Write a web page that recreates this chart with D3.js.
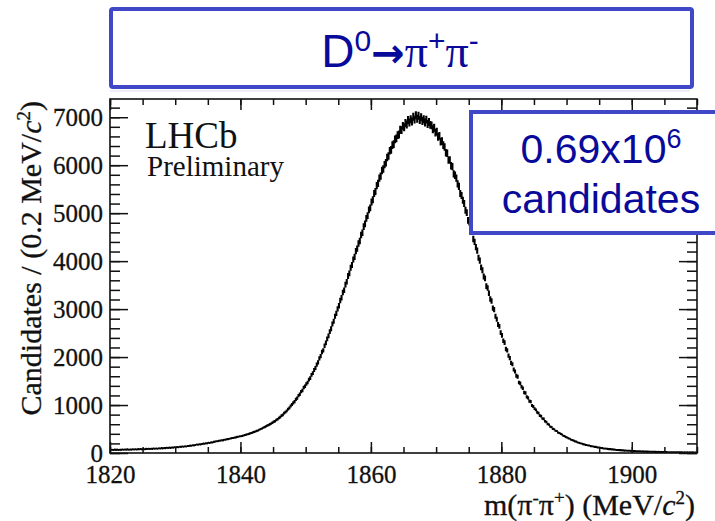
<!DOCTYPE html>
<html>
<head>
<meta charset="utf-8">
<script src="https://cdn.jsdelivr.net/npm/d3@7.9.0/dist/d3.min.js"></script>
<style>
  body { margin: 0; background: #fff; }
  svg { display: block; }
  .serif { font-family: 'Liberation Serif', 'Times New Roman', serif; }
  .sans { font-family: 'Liberation Sans', Arial, sans-serif; }
</style>
</head>
<body>
<svg width="715" height="521"></svg>
<script>
// m(pi- pi+) spectrum, 0.2 MeV bins from 1820 to 1910
const massLow = 1820;
const binWidth = 0.2;
const counts = [
  63, 68, 61, 70, 66, 71, 64, 69, 66, 72,
  67, 73, 70, 75, 68, 74, 70, 77, 73, 79,
  73, 80, 77, 82, 76, 84, 78, 86, 82, 88,
  83, 90, 87, 94, 89, 95, 90, 98, 93, 101,
  97, 104, 101, 108, 105, 112, 107, 116, 113, 119,
  117, 125, 121, 130, 127, 134, 130, 140, 137, 146,
  145, 154, 151, 162, 158, 168, 176, 172, 183, 180,
  188, 196, 193, 204, 201, 213, 210, 222, 220, 232,
  238, 246, 244, 256, 258, 266, 263, 275, 277, 288,
  290, 298, 301, 312, 314, 320, 326, 336, 340, 348,
  350, 358, 366, 375, 384, 392, 398, 410, 418, 430,
  440, 448, 462, 470, 486, 500, 510, 526, 538, 555,
  570, 582, 600, 612, 632, 650, 664, 688, 702, 731,
  748, 780, 796, 832, 851, 878, 915, 940, 978, 1012,
  1045, 1070, 1118, 1145, 1196, 1225, 1280, 1302, 1365, 1390,
  1438, 1470, 1532, 1560, 1628, 1665, 1730, 1772, 1842, 1890,
  1972, 2020, 2105, 2140, 2238, 2295, 2380, 2440, 2530, 2590,
  2690, 2745, 2852, 2910, 3005, 3070, 3180, 3235, 3345, 3392,
  3512, 3570, 3690, 3745, 3862, 3920, 4035, 4090, 4210, 4262,
  4368, 4420, 4545, 4590, 4720, 4778, 4890, 4950, 5068, 5110,
  5232, 5280, 5410, 5450, 5575, 5620, 5730, 5770, 5890, 5920,
  6012, 6050, 6160, 6190, 6300, 6320, 6420, 6440, 6540, 6560,
  6625, 6640, 6740, 6730, 6820, 6790, 6880, 6850, 6940, 6890,
  6960, 6910, 7010, 6950, 7040, 6970, 7030, 6940, 7000, 6920,
  6960, 6890, 6950, 6860, 6900, 6840, 6830, 6750, 6780, 6680,
  6700, 6590, 6610, 6490, 6500, 6420, 6380, 6260, 6250, 6110,
  6110, 5990, 5970, 5820, 5790, 5730, 5610, 5560, 5410, 5370,
  5270, 5200, 5060, 5010, 4850, 4810, 4690, 4620, 4460, 4400,
  4290, 4220, 4070, 4010, 3870, 3810, 3680, 3640, 3480, 3440,
  3330, 3210, 3170, 3020, 2990, 2850, 2790, 2680, 2640, 2510,
  2450, 2340, 2300, 2170, 2140, 2030, 1980, 1880, 1850, 1740,
  1700, 1610, 1590, 1470, 1450, 1380, 1350, 1260, 1250, 1170,
  1150, 1080, 1070, 990, 970, 925, 900, 850, 830, 780,
  768, 720, 712, 660, 645, 605, 590, 552, 540, 502,
  495, 465, 460, 425, 418, 398, 385, 360, 352, 330,
  322, 305, 298, 275, 268, 258, 242, 238, 220, 215,
  203, 198, 186, 180, 170, 166, 157, 155, 144, 142,
  136, 128, 127, 117, 115, 112, 104, 102, 95, 94,
  89, 87, 81, 80, 75, 76, 70, 69, 64, 63,
  60, 59, 55, 54, 50, 52, 48, 47, 46, 43,
  44, 40, 41, 37, 38, 35, 35, 32, 33, 29,
  31, 28, 29, 26, 27, 25, 26, 23, 24, 21,
  23, 20, 21, 19, 20, 18, 19, 16, 17, 16,
  17, 14, 15, 13, 15, 13, 14, 12, 13, 11,
  12, 11, 13, 10, 12, 10, 12, 9, 11, 10
];
const xMajor = [1820, 1840, 1860, 1880, 1900];
const xMinor = d3.range(1820, 1911, 5);
const yMajor = [0, 1000, 2000, 3000, 4000, 5000, 6000, 7000];
const yMinor = d3.range(0, 7400, 200);

const svg = d3.select('svg');
const plotL = 110, plotR = 697, plotT = 99, plotB = 453;
const ink = '#111';

const x = d3.scaleLinear().domain([1820, 1910]).range([plotL, plotR]);
const y = d3.scaleLinear().domain([0, 7380]).range([plotB, plotT]);

// faint line of the slide above the plot
svg.append('line')
  .attr('x1', plotL).attr('x2', 690).attr('y1', 91).attr('y2', 91)
  .attr('stroke', '#eceff8').attr('stroke-width', 2);

svg.append('clipPath').attr('id', 'plot')
  .append('rect').attr('x', plotL).attr('y', plotT)
  .attr('width', plotR - plotL).attr('height', plotB - plotT);

// histogram with error bars
let d = '';
counts.forEach((v, i) => {
  const lo = massLow + i * binWidth;
  const e = Math.sqrt(v);
  d += `M${x(lo)},${y(v)}H${x(lo + binWidth)}`;
  d += `M${x(lo + binWidth / 2)},${y(v - e)}V${y(v + e)}`;
});
svg.append('path')
  .attr('clip-path', 'url(#plot)')
  .attr('d', d)
  .attr('fill', 'none')
  .attr('stroke', '#000')
  .attr('stroke-width', 2.1);

// axes: ticks on all four sides, labels bottom and left
function ticks(axis, pos) {
  const g = svg.append('g').attr('transform', pos).call(axis);
  g.select('.domain').remove();
  g.selectAll('line').attr('stroke', ink).attr('stroke-width', 1.5);
  g.selectAll('text').attr('class', 'serif').attr('fill', ink)
    .attr('stroke', ink).attr('stroke-width', 0.3)
    .style('font-size', '25px');
  return g;
}
ticks(d3.axisBottom(x).tickValues(xMinor).tickSize(-6).tickFormat(''), `translate(0,${plotB})`);
ticks(d3.axisBottom(x).tickValues(xMajor).tickSize(-11).tickPadding(12).tickFormat(d3.format('d')), `translate(0,${plotB})`);
ticks(d3.axisTop(x).tickValues(xMinor).tickSize(-6).tickFormat(''), `translate(0,${plotT})`);
ticks(d3.axisTop(x).tickValues(xMajor).tickSize(-11).tickFormat(''), `translate(0,${plotT})`);
ticks(d3.axisLeft(y).tickValues(yMinor).tickSize(-10).tickFormat(''), `translate(${plotL},0)`);
ticks(d3.axisLeft(y).tickValues(yMajor).tickSize(-18).tickPadding(7).tickFormat(d3.format('d')), `translate(${plotL},0)`);
ticks(d3.axisRight(y).tickValues(yMinor).tickSize(-10).tickFormat(''), `translate(${plotR},0)`);
ticks(d3.axisRight(y).tickValues(yMajor).tickSize(-18).tickFormat(''), `translate(${plotR},0)`);

svg.append('rect')
  .attr('x', plotL).attr('y', plotT)
  .attr('width', plotR - plotL).attr('height', plotB - plotT)
  .attr('fill', 'none').attr('stroke', ink).attr('stroke-width', 1.6);

// axis titles
const xt = svg.append('text').attr('class', 'serif')
  .attr('x', 695).attr('y', 515).attr('text-anchor', 'end')
  .attr('stroke', ink).attr('stroke-width', 0.3)
  .style('font-size', '30px').attr('fill', ink);
xt.append('tspan').text('m(π');
xt.append('tspan').attr('dy', -11).style('font-size', '19px').text('-');
xt.append('tspan').attr('dy', 11).text('π');
xt.append('tspan').attr('dy', -11).style('font-size', '19px').text('+');
xt.append('tspan').attr('dy', 11).text(')  (MeV/');
xt.append('tspan').style('font-style', 'italic').text('c');
xt.append('tspan').attr('dy', -11).style('font-size', '19px').text('2');
xt.append('tspan').attr('dy', 11).text(')');

const yt = svg.append('text').attr('class', 'serif')
  .attr('transform', 'translate(41,101) rotate(-90)')
  .attr('text-anchor', 'end')
  .attr('stroke', ink).attr('stroke-width', 0.3)
  .style('font-size', '30px').attr('fill', ink);
yt.append('tspan').text('Candidates / (0.2 MeV/');
yt.append('tspan').style('font-style', 'italic').text('c');
yt.append('tspan').attr('dy', -11).style('font-size', '19px').text('2');
yt.append('tspan').attr('dy', 11).text(')');

svg.append('text').attr('class', 'serif')
  .attr('x', 145).attr('y', 148).style('font-size', '37px').attr('fill', ink)
  .text('LHCb');
svg.append('text').attr('class', 'serif')
  .attr('x', 147).attr('y', 176).style('font-size', '29px').attr('fill', ink)
  .text('Preliminary');

// slide boxes
const boxBlue = '#4048c8', textBlue = '#0a0a9a';
svg.append('rect')
  .attr('x', 111).attr('y', 9).attr('width', 581).attr('height', 78)
  .attr('fill', '#fff').attr('stroke', boxBlue).attr('stroke-width', 4).attr('rx', 2);
const tt = svg.append('text').attr('class', 'sans')
  .attr('x', 400).attr('y', 67).attr('text-anchor', 'middle')
  .style('font-size', '46px').attr('fill', textBlue);
tt.append('tspan').text('D');
tt.append('tspan').attr('dy', -16).style('font-size', '30px').text('0');
tt.append('tspan').attr('dy', 16)
  .style('font-family', "'DejaVu Sans', sans-serif").style('font-weight', 'bold')
  .style('font-size', '40px').text('→');
tt.append('tspan').attr('class', 'serif').text('π');
tt.append('tspan').attr('dy', -16).style('font-size', '30px').text('+');
tt.append('tspan').attr('dy', 16).attr('class', 'serif').text('π');
tt.append('tspan').attr('dy', -16).style('font-size', '30px').text('-');

svg.append('rect')
  .attr('x', 471).attr('y', 112).attr('width', 270).attr('height', 121)
  .attr('fill', '#fff').attr('stroke', boxBlue).attr('stroke-width', 4);
const ct = svg.append('text').attr('class', 'sans')
  .attr('x', 601).attr('y', 163).attr('text-anchor', 'middle')
  .style('font-size', '41px').attr('fill', textBlue);
ct.append('tspan').text('0.69x10');
ct.append('tspan').attr('dy', -15).style('font-size', '27px').text('6');
svg.append('text').attr('class', 'sans')
  .attr('x', 601).attr('y', 213).attr('text-anchor', 'middle')
  .style('font-size', '41px').attr('fill', textBlue)
  .text('candidates');
</script>
</body>
</html>
